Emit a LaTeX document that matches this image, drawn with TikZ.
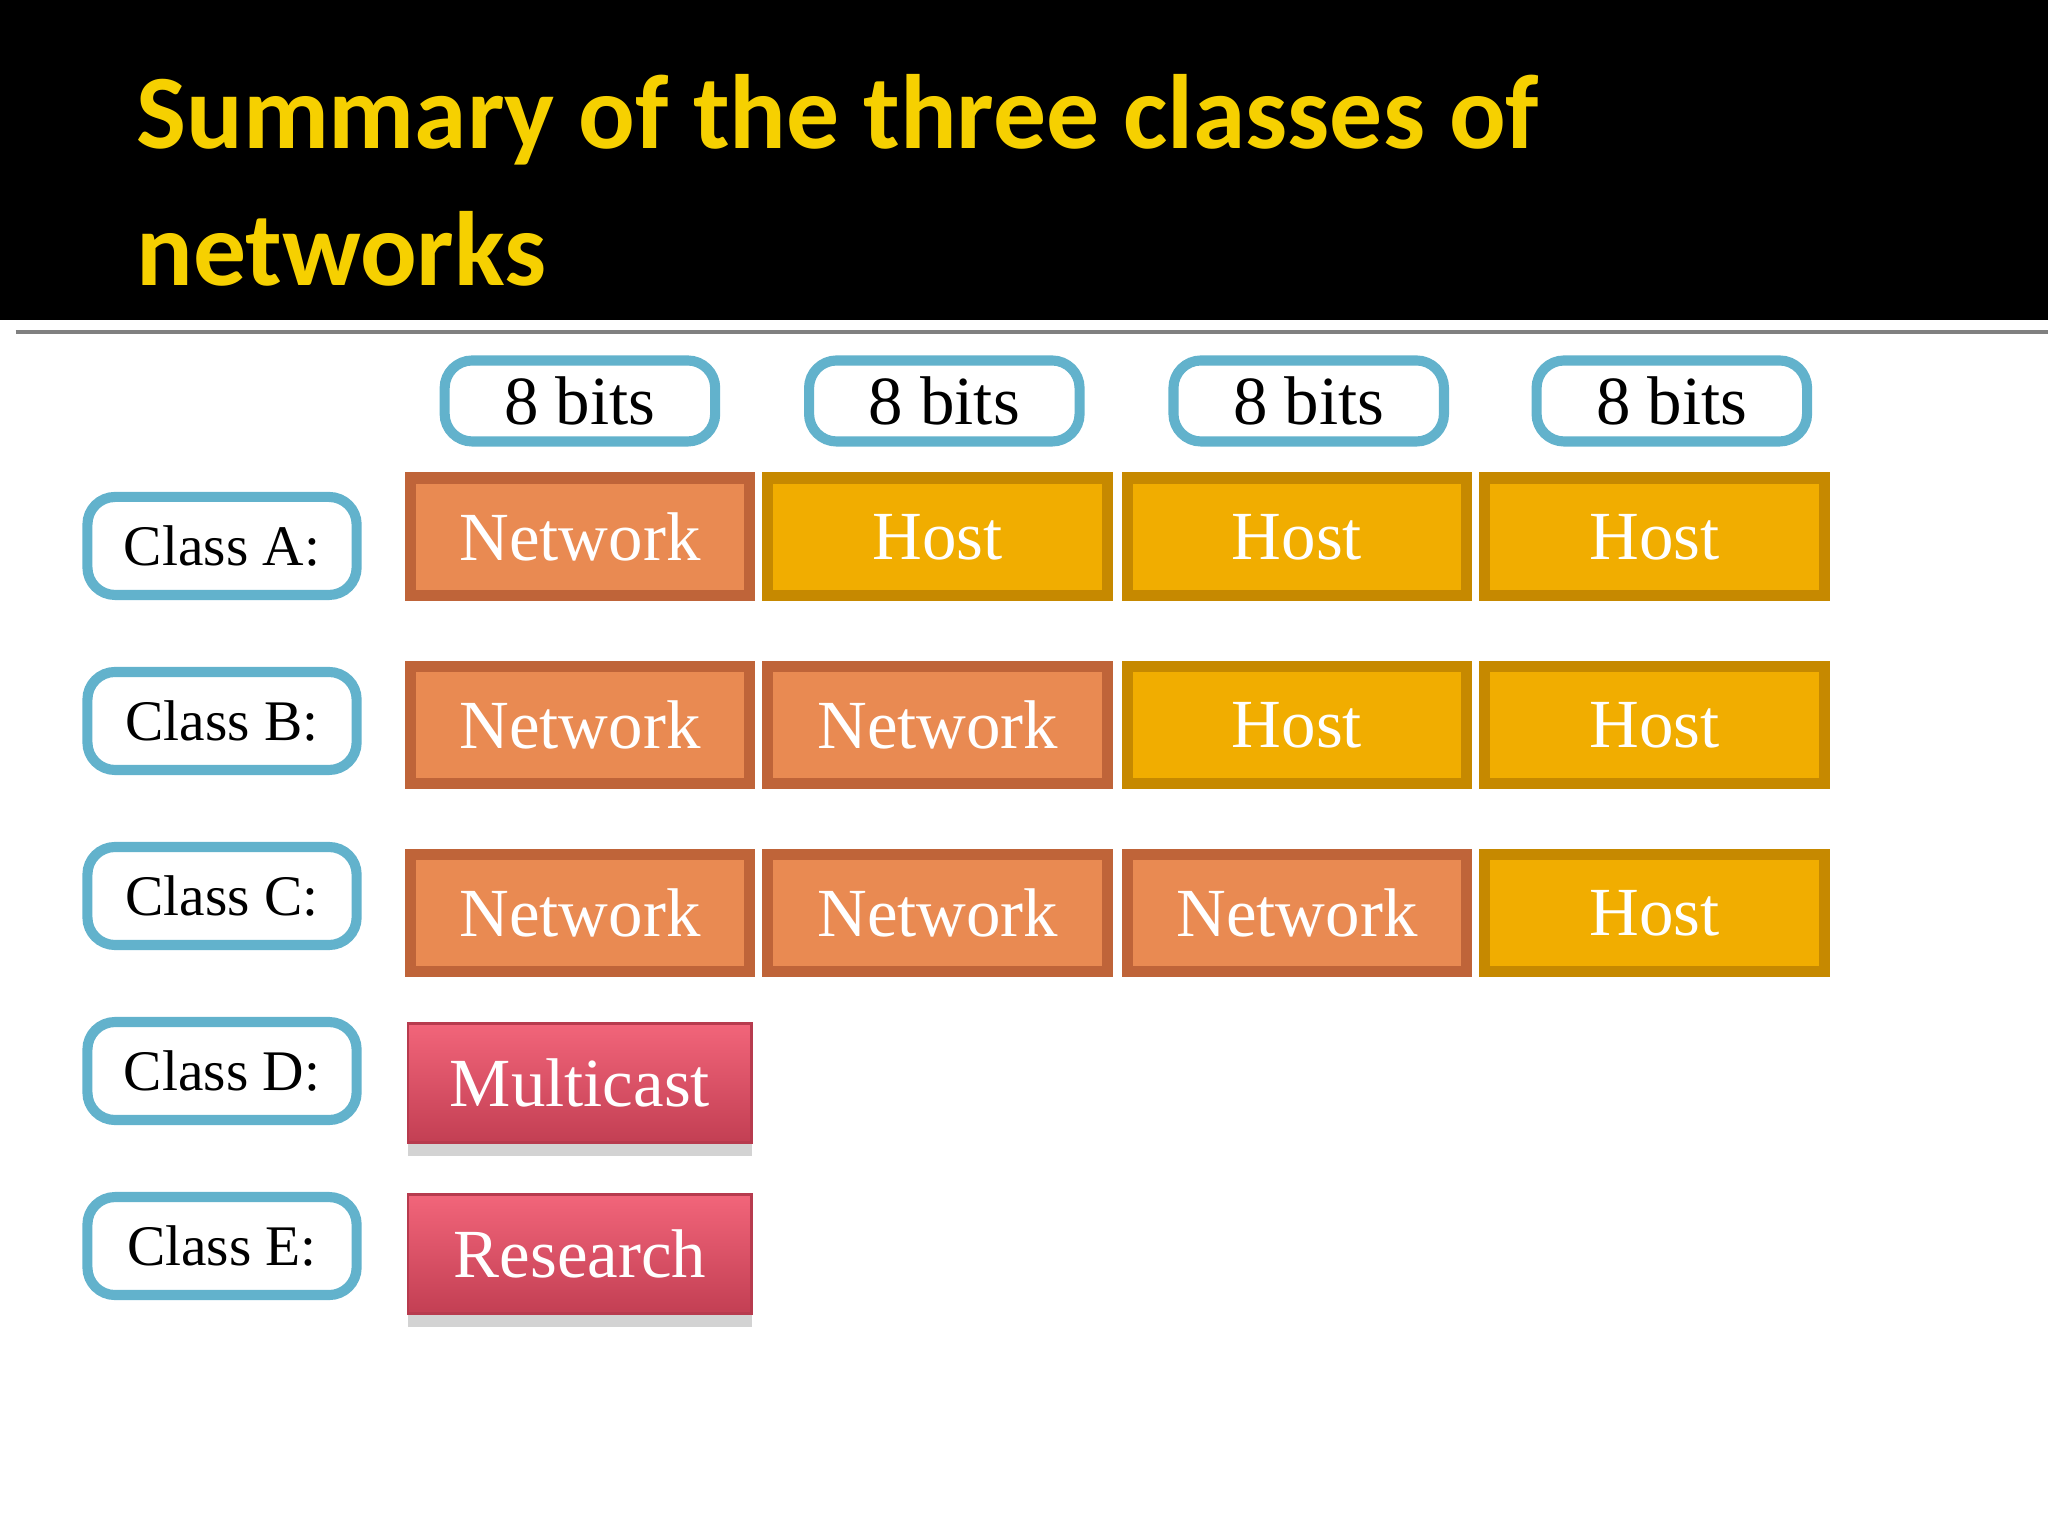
\documentclass[tikz,border=0pt]{standalone}
\usepackage{fontspec}
\setmainfont{Liberation Serif}
\newfontfamily\titlefont{Carlito}
\usetikzlibrary{shadows}
\definecolor{bluebd}{HTML}{62B2CC}
\definecolor{netfill}{HTML}{E98A52}
\definecolor{netbd}{HTML}{BF6439}
\definecolor{hostfill}{HTML}{F1AD00}
\definecolor{hostbd}{HTML}{C68900}
\definecolor{redfill}{HTML}{E54A62}
\definecolor{redtop}{HTML}{F2657A}
\definecolor{titley}{HTML}{F6D000}
\begin{document}
\begin{tikzpicture}[x=0.01cm,y=-0.01cm,
  bitbox/.style={draw=bluebd,line width=2.2pt,rounded corners=6pt,fill=white,minimum width=2.07cm,minimum height=0.62cm,font=\fontsize{15}{17}\selectfont,inner sep=0pt},
  clsbox/.style={draw=bluebd,line width=2.2pt,rounded corners=6pt,fill=white,minimum width=2.06cm,minimum height=0.75cm,font=\fontsize{12.5}{14}\selectfont,inner sep=0pt},
  netcell/.style={draw=netbd,fill=netfill,line width=2.4pt,minimum width=2.6cm,minimum height=0.9cm,text=white,font=\fontsize{15}{17}\selectfont,inner sep=0pt},
  hostcell/.style={netcell,draw=hostbd,fill=hostfill},
  redcell/.style={top color=redtop,bottom color=redfill!85!black,draw=redfill!80!black,line width=0.6pt,minimum width=2.63cm,minimum height=0.91cm,text=white,font=\fontsize{15}{17}\selectfont,inner sep=0pt,drop shadow={shadow xshift=0pt,shadow yshift=-3pt,opacity=0.35}}]
\useasboundingbox (0,0) rectangle (1568,1176);
\fill[black] (0,0) rectangle (1568,245);
\draw[gray,line width=0.8pt] (12,254) -- (1568,254);
\node[anchor=west,text=titley,font=\titlefont\bfseries\fontsize{23}{30}\selectfont,align=left] (title) at (92,138) {Summary of the three classes of\\networks};
% bits
\node[bitbox] (b1) at (444,307) {8 bits};
\node[bitbox] (b2) at (723,307) {8 bits};
\node[bitbox] (b3) at (1002,307) {8 bits};
\node[bitbox] (b4) at (1280,307) {8 bits};
% class labels
\node[clsbox] (ca) at (170,418) {Class A:};
\node[clsbox] (cb) at (170,552) {Class B:};
\node[clsbox] (cc) at (170,686) {Class C:};
\node[clsbox] (cd) at (170,820) {Class D:};
\node[clsbox] (ce) at (170,954) {Class E:};
% row A
\node[netcell] (a1) at (444,411) {Network};
\node[hostcell] (a2) at (718,411) {Host};
\node[hostcell] (a3) at (993,411) {Host};
\node[hostcell] (a4) at (1267,411) {Host};
% row B
\node[netcell] (r1) at (444,555) {Network};
\node[netcell] (r2) at (718,555) {Network};
\node[hostcell] (r3) at (993,555) {Host};
\node[hostcell] (r4) at (1267,555) {Host};
% row C
\node[netcell] (c1) at (444,699) {Network};
\node[netcell] (c2) at (718,699) {Network};
\node[netcell] (c3) at (993,699) {Network};
\node[hostcell] (c4) at (1267,699) {Host};
% D, E
\node[redcell] (d1) at (444,829) {Multicast};
\node[redcell] (e1) at (444,960) {Research};
\end{tikzpicture}
\end{document}
